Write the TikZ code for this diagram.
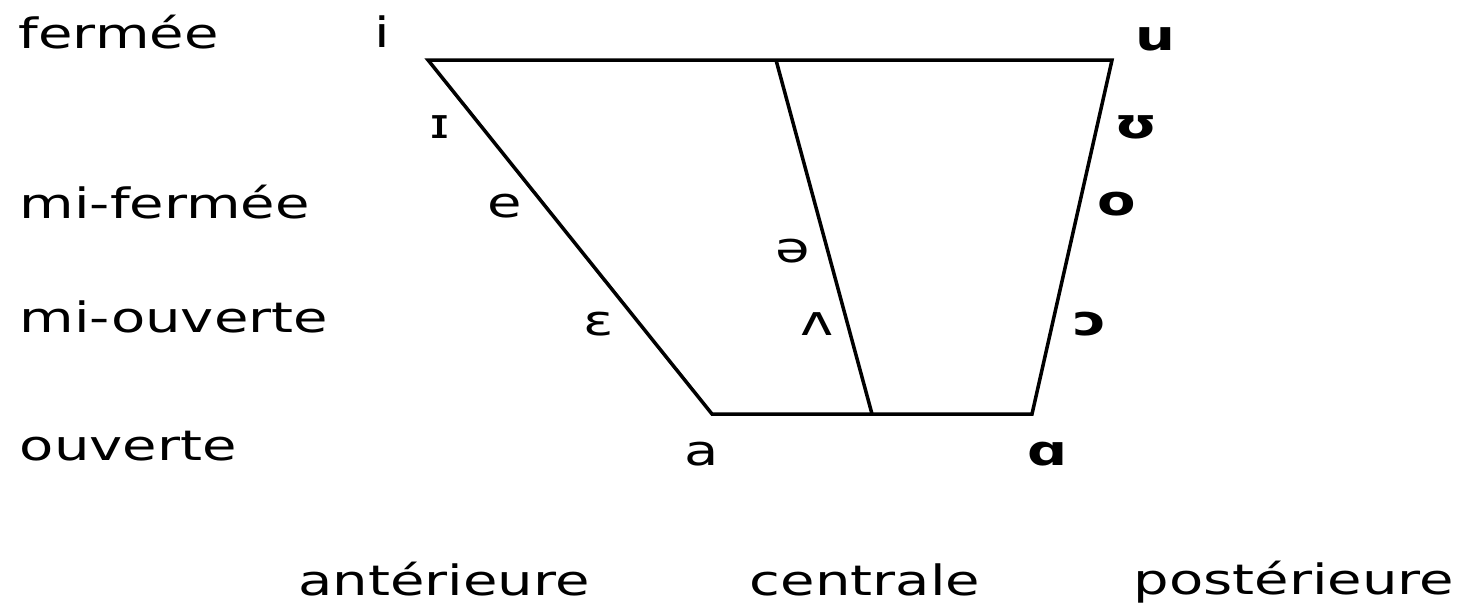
\documentclass[tikz,border=0pt]{standalone}
\usepackage{fontspec}
\setmainfont{DejaVu Sans}[FakeStretch=1.34]
\usetikzlibrary{positioning}

\begin{document}
\begin{tikzpicture}[x=0.02cm, y=-0.02cm, line width=2pt,
    lbl/.style={inner sep=0pt, font=\fontsize{23.8}{28}\selectfont},
    vow/.style={inner sep=0pt, anchor=base, font=\fontsize{23.8}{28}\selectfont},
    bvow/.style={vow, font=\fontsize{23.8}{28}\selectfont\bfseries}]
    \useasboundingbox (0,0) rectangle (1462,603);
    % corners of the trapezoid
    \coordinate (ci) at (428,60);
    \coordinate (cu) at (1112,60);
    \coordinate (ca) at (712,414);
    \coordinate (cq) at (1032,414);
    \coordinate (ctop) at (776,60);
    \coordinate (cbot) at (872,414);
    \draw (ci) -- (cu) -- (cq) -- (ca) -- cycle;
    \draw (ctop) -- (cbot);
    % heights
    \node[lbl, anchor=base west] (fermee) at (17,48) {fermée};
    \node[lbl, anchor=base west] (mifermee) at (18,218) {mi-fermée};
    \node[lbl, anchor=base west] (miouverte) at (18,332) {mi-ouverte};
    \node[lbl, anchor=base west] (ouverte) at (18,460) {ouverte};
    % places
    \node[lbl, anchor=base] (anterieure) at (444,595) {antérieure};
    \node[lbl, anchor=base] (centrale) at (865,595) {centrale};
    \node[lbl, anchor=base] (posterieure) at (1294,594) {postérieure};
    % vowels
    \node[vow] (vi) at (382,47) {i};
    \node[vow] (vI) at (440,138) {ɪ};
    \node[vow] (ve) at (505,217) {e};
    \node[vow] (veps) at (599,335) {ɛ};
    \node[vow] (va) at (702,465) {a};
    \node[vow] (vschwa) at (793,262) {ə};
    \node[vow] (vwedge) at (817,335) {ʌ};
    \node[bvow] (vu) at (1155,50) {u};
    \node[bvow] (vU) at (1136,138) {ʊ};
    \node[bvow] (vo) at (1117,215) {o};
    \node[bvow] (vopeno) at (1090,335) {ɔ};
    \node[bvow] (valpha) at (1048,465) {ɑ};
\end{tikzpicture}
\end{document}
